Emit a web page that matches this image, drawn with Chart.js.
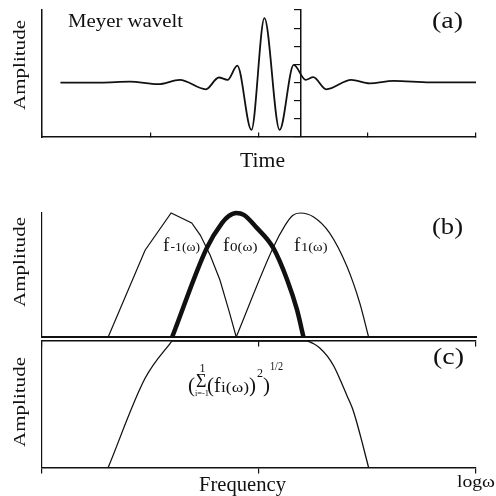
<!DOCTYPE html>
<html>
<head>
<meta charset="utf-8">
<script src="https://cdn.jsdelivr.net/npm/chart.js@4"></script>
<style>
  html, body { margin: 0; padding: 0; background: #fff; }
  .panel { position: absolute; left: 0; top: 0; }
</style>
</head>
<body>
<canvas id="waveletChart" class="panel" width="496" height="496"></canvas>
<canvas id="bandChart" class="panel" width="496" height="496"></canvas>
<canvas id="sumChart" class="panel" width="496" height="496"></canvas>
<script>
// (a) Meyer wavelet, time vs amplitude
const timeValues = [0.17, 0.54, 0.81, 1.07, 1.27, 1.51, 1.63, 1.71, 1.80, 1.93, 2.05, 2.19, 2.32, 2.43, 2.50, 2.62, 2.85, 3.02, 3.24, 3.58, 4.0];
const waveletValues = [0, 0, 0.05, -0.09, 0.15, -0.37, 0.28, 0.15, 0.93, -2.61, 3.55, -2.61, 0.97, 0.15, 0.30, -0.37, 0.15, -0.04, 0.09, 0.01, 0.01];

// (b) the three band filters f-1, f0, f1 on a log frequency axis
const fMinus1Freq = [0.61, 0.95, 1.19, 1.38, 1.46, 1.55, 1.64, 1.73, 1.79];
const fMinus1Amp = [0, 0.70, 1.0, 0.92, 0.82, 0.66, 0.46, 0.19, 0];
const f0Freq = [1.20, 1.52, 1.66, 1.72, 1.79, 1.86, 1.98, 2.13, 2.26, 2.35, 2.41];
const f0Amp = [0, 0.72, 0.92, 0.975, 1.0, 0.985, 0.88, 0.72, 0.46, 0.22, 0];
const f1Freq = [1.79, 2.13, 2.24, 2.31, 2.38, 2.50, 2.65, 2.81, 2.93, 3.01];
const f1Amp = [0, 0.72, 0.90, 0.98, 1.0, 0.97, 0.84, 0.57, 0.27, 0];

// (c) square root of the summed squares
const sumFreq = [0.61, 0.95, 1.18, 1.20, 1.80, 2.44, 2.50, 2.56, 2.63, 2.69, 2.75, 2.81, 2.86, 2.90, 2.95, 3.01];
const sumAmp = [0, 0.705, 0.98, 1.0, 1.0, 1.0, 0.98, 0.945, 0.88, 0.80, 0.69, 0.57, 0.47, 0.36, 0.20, 0];

const INK = '#111';
const FONT = '"Liberation Serif", "Times New Roman", serif';

function toPoints(xs, ys) {
    return xs.map((x, i) => ({ x: x, y: ys[i] }));
}

// draw one text label, squeezed/stretched to the width seen in the figure
function drawLabel(ctx, l) {
    ctx.save();
    ctx.font = l.size + 'px ' + FONT;
    ctx.fillStyle = INK;
    ctx.textBaseline = 'alphabetic';
    ctx.textAlign = l.rotate ? 'center' : 'left';
    const w = ctx.measureText(l.text).width;
    const sx = l.width ? l.width / w : 1;
    ctx.translate(l.x, l.y);
    if (l.rotate) ctx.rotate(-Math.PI / 2);
    ctx.scale(sx, 1);
    ctx.fillText(l.text, 0, 0);
    ctx.restore();
}

function textPlugin(labels) {
    return {
        id: 'panelText',
        afterDraw(chart) {
            labels.forEach(l => drawLabel(chart.ctx, l));
        }
    };
}

// a plain axis line, no labels
function axisLine(extra) {
    return Object.assign({
        type: 'linear',
        ticks: { display: false },
        grid: { display: false },
        border: { display: true, color: INK, width: 1.5 }
    }, extra);
}

// axis line with short tick marks only
function tickedAxis(extra, step, tickLength) {
    return axisLine(Object.assign({
        ticks: { display: false, stepSize: step },
        grid: { display: true, drawOnChartArea: false, drawTicks: true, tickLength: tickLength, color: INK, lineWidth: 1.2 }
    }, extra));
}

function lineSet(points, width, smooth) {
    return {
        data: points,
        borderColor: INK,
        borderWidth: width,
        pointRadius: 0,
        fill: false,
        clip: false,
        tension: 0,
        cubicInterpolationMode: smooth ? 'monotone' : 'default'
    };
}

function baseOptions(padding, scales) {
    return {
        responsive: false,
        animation: false,
        devicePixelRatio: 1,
        layout: { padding: padding },
        plugins: { legend: { display: false }, tooltip: { enabled: false } },
        events: [],
        scales: scales
    };
}

// Panel (a)
new Chart(document.getElementById('waveletChart'), {
    type: 'line',
    data: { datasets: [lineSet(toPoints(timeValues, waveletValues), 1.8, true)] },
    options: baseOptions({ left: 42, top: 10, right: 20, bottom: 359 }, {
        x: tickedAxis({ axis: 'x', min: 0, max: 4, position: { y: -3 } }, 1, -5),
        y: axisLine({ axis: 'y', min: -3, max: 4, position: { x: 0 } }),
        y2: tickedAxis({ axis: 'y', min: -3, max: 4, position: { x: 2.387 } }, 1, 6)
    }),
    plugins: [textPlugin([
        { text: 'Meyer wavelt', x: 68, y: 27, size: 18, width: 115 },
        { text: '(a)', x: 432, y: 28, size: 24, width: 31 },
        { text: 'Time', x: 240, y: 166.5, size: 22, width: 45 },
        { text: 'Amplitude', x: 25, y: 65, size: 17, width: 90, rotate: true }
    ])]
});

// Panel (b)
new Chart(document.getElementById('bandChart'), {
    type: 'line',
    data: {
        datasets: [
            lineSet(toPoints(fMinus1Freq, fMinus1Amp), 1.2, false),
            lineSet(toPoints(f0Freq, f0Amp), 4.5, true),
            lineSet(toPoints(f1Freq, f1Amp), 1.2, true)
        ]
    },
    options: baseOptions({ left: 42, top: 213, right: 20, bottom: 159 }, {
        x: axisLine({ axis: 'x', min: 0, max: 4, position: { y: 0 }, border: { display: true, color: INK, width: 2 } }),
        y: axisLine({ axis: 'y', min: 0, max: 1, position: { x: 0 }, border: { display: true, color: INK, width: 1.2 } })
    }),
    plugins: [textPlugin([
        { text: '(b)', x: 432, y: 234, size: 24, width: 31 },
        { text: 'Amplitude', x: 25, y: 262, size: 17, width: 90, rotate: true },
        { text: 'f', x: 163, y: 251, size: 19 },
        { text: '-1(ω)', x: 170.5, y: 251, size: 13, width: 29.5 },
        { text: 'f', x: 223, y: 251, size: 19 },
        { text: '0(ω)', x: 230, y: 251, size: 13, width: 27.5 },
        { text: 'f', x: 294, y: 251, size: 19 },
        { text: '1(ω)', x: 301, y: 251, size: 13, width: 26.5 }
    ])]
});

// Panel (c)
new Chart(document.getElementById('sumChart'), {
    type: 'line',
    data: { datasets: [lineSet(toPoints(sumFreq, sumAmp), 1.3, true)] },
    options: baseOptions({ left: 42, top: 341, right: 20, bottom: 28.5 }, {
        x: tickedAxis({ axis: 'x', min: 0, max: 4, position: { y: 0 } }, 2, 5),
        xTop: tickedAxis({ axis: 'x', min: 0, max: 4, position: { y: 1 } }, 2, 5),
        y: axisLine({ axis: 'y', min: 0, max: 1, position: { x: 0 }, border: { display: true, color: INK, width: 1.2 } })
    }),
    plugins: [textPlugin([
        { text: '(c)', x: 433, y: 364, size: 24, width: 31 },
        { text: 'Amplitude', x: 25, y: 402, size: 17, width: 90, rotate: true },
        { text: '(', x: 188, y: 392, size: 21 },
        { text: 'Σ', x: 196, y: 387, size: 18 },
        { text: '1', x: 199.5, y: 372, size: 12 },
        { text: 'i=-1', x: 195, y: 396, size: 8, width: 14 },
        { text: '(', x: 207, y: 392, size: 21 },
        { text: 'f', x: 214, y: 392, size: 20 },
        { text: 'i(ω)', x: 221, y: 392, size: 14, width: 28 },
        { text: ')', x: 249, y: 392, size: 21 },
        { text: '2', x: 257, y: 377, size: 12 },
        { text: ')', x: 263, y: 392, size: 21 },
        { text: '1/2', x: 270, y: 370, size: 12, width: 13 },
        { text: 'Frequency', x: 199, y: 491, size: 20, width: 87 },
        { text: 'logω', x: 457, y: 487, size: 16, width: 38 }
    ])]
});
</script>
</body>
</html>
